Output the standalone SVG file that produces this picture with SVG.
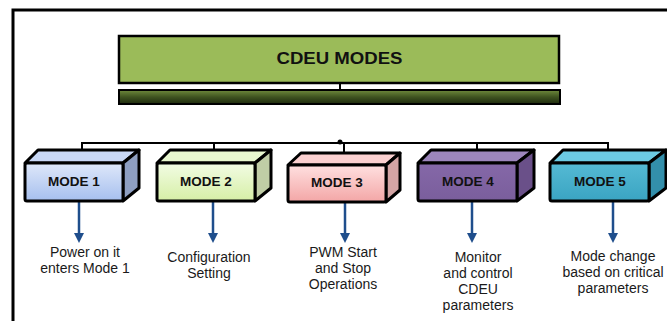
<svg xmlns="http://www.w3.org/2000/svg" width="667" height="321" viewBox="0 0 667 321">
<defs>
<linearGradient id="gBar" x1="0" y1="0" x2="0" y2="1"><stop offset="0" stop-color="#6f8a3c"/><stop offset="0.5" stop-color="#3f5320"/><stop offset="1" stop-color="#1e2a0e"/></linearGradient>
<linearGradient id="g1" x1="0" y1="0" x2="0" y2="1"><stop offset="0" stop-color="#dfe8fa"/><stop offset="1" stop-color="#a6bfee"/></linearGradient>
<linearGradient id="g2" x1="0" y1="0" x2="0" y2="1"><stop offset="0" stop-color="#f2fce4"/><stop offset="1" stop-color="#d6efa6"/></linearGradient>
<linearGradient id="g3" x1="0" y1="0" x2="0" y2="1"><stop offset="0" stop-color="#ffe0e0"/><stop offset="1" stop-color="#f3a6a6"/></linearGradient>
<linearGradient id="g4" x1="0" y1="0" x2="0" y2="1"><stop offset="0" stop-color="#8568a8"/><stop offset="1" stop-color="#7a5e9c"/></linearGradient>
<linearGradient id="g5" x1="0" y1="0" x2="0" y2="1"><stop offset="0" stop-color="#55bad4"/><stop offset="1" stop-color="#3aa4c2"/></linearGradient>
<marker id="ah" viewBox="0 0 10 10" refX="5" refY="5" markerWidth="4" markerHeight="4" orient="auto"><path d="M0,0 L10,5 L0,10 z" fill="#1f4e8c"/></marker>
</defs>
<style>
.edge{stroke:#000;stroke-width:3;stroke-linejoin:round}
.conn{stroke:#000;stroke-width:2;fill:none}
.arr{stroke:#1f4e8c;stroke-width:2.5;fill:none}
.lbl{font-family:"Liberation Sans",Arial,sans-serif;font-weight:bold;font-size:13.5px;fill:#111;text-anchor:middle}
.desc{font-family:"Liberation Sans",Arial,sans-serif;font-size:14px;fill:#1a1a1a;text-anchor:middle}
</style>
<rect width="667" height="321" fill="#fff"/>
<rect x="13" y="10" width="680" height="330" fill="none" stroke="#000" stroke-width="3"/>

<g id="connectors">
<line class="conn" x1="340" y1="83" x2="340" y2="90"/>
<polyline class="conn" points="82,150 82,143 608,143 608,150"/>
<line class="conn" x1="214" y1="143" x2="214" y2="151"/>
<line class="conn" x1="344" y1="143" x2="344" y2="153"/>
<line class="conn" x1="477" y1="143" x2="477" y2="151"/>
<circle cx="340" cy="142" r="2.5" fill="#000"/>
<line class="arr" x1="79" y1="201" x2="79" y2="238" marker-end="url(#ah)"/>
<line class="arr" x1="213" y1="201" x2="213" y2="238" marker-end="url(#ah)"/>
<line class="arr" x1="345" y1="203" x2="345" y2="238" marker-end="url(#ah)"/>
<line class="arr" x1="472" y1="201" x2="472" y2="238" marker-end="url(#ah)"/>
<line class="arr" x1="613" y1="201" x2="613" y2="238" marker-end="url(#ah)"/>
</g>

<g id="root">
<rect x="119" y="36" width="440" height="47" fill="#9bbb59" stroke="#000" stroke-width="2.5"/>
<text x="339.5" y="64" font-family="'Liberation Sans',Arial,sans-serif" font-weight="bold" font-size="16" text-anchor="middle" textLength="126" lengthAdjust="spacingAndGlyphs" fill="#111">CDEU MODES</text>
</g>
<g id="bar">
<rect x="119" y="90" width="441" height="14" fill="url(#gBar)" stroke="#000" stroke-width="2"/>
</g>

<g id="mode1">
<polygon class="edge" points="25,163 38,150 139,150 123,163" fill="#c8d7f5"/>
<polygon class="edge" points="123,163 139,150 139,188 123,201" fill="#8e9fc2"/>
<rect class="edge" x="25" y="163" width="98" height="38" rx="2" fill="url(#g1)"/>
<text class="lbl" x="74" y="185.5">MODE 1</text>
<text class="desc" x="85" y="257">Power on it</text>
<text class="desc" x="85" y="273">enters Mode 1</text>
</g>

<g id="mode2">
<polygon class="edge" points="157,163 170,150 271,150 255,163" fill="#e8f7cf"/>
<polygon class="edge" points="255,163 271,150 271,188 255,201" fill="#c0cda6"/>
<rect class="edge" x="157" y="163" width="98" height="38" rx="2" fill="url(#g2)"/>
<text class="lbl" x="206" y="185.5">MODE 2</text>
<text class="desc" x="209" y="262">Configuration</text>
<text class="desc" x="209" y="278">Setting</text>
</g>

<g id="mode3">
<polygon class="edge" points="288,165 301,153 400,153 386,165" fill="#fbd0d0"/>
<polygon class="edge" points="386,165 400,153 400,190 386,202" fill="#d4a5a5"/>
<rect class="edge" x="288" y="165" width="98" height="37" rx="2" fill="url(#g3)"/>
<text class="lbl" x="337" y="187">MODE 3</text>
<text class="desc" x="343" y="257">PWM Start</text>
<text class="desc" x="343" y="273">and Stop</text>
<text class="desc" x="343" y="289">Operations</text>
</g>

<g id="mode4">
<polygon class="edge" points="418,163 431,150 534,150 517,163" fill="#9d86bc"/>
<polygon class="edge" points="517,163 534,150 534,188 517,201" fill="#6a5089"/>
<rect class="edge" x="418" y="163" width="99" height="38" rx="2" fill="url(#g4)"/>
<text class="lbl" x="468" y="185.5">MODE 4</text>
<text class="desc" x="478" y="262">Monitor</text>
<text class="desc" x="478" y="278">and control</text>
<text class="desc" x="478" y="294">CDEU</text>
<text class="desc" x="478" y="310">parameters</text>
</g>

<g id="mode5">
<polygon class="edge" points="550,163 563,150 666,150 649,163" fill="#6ccbe3"/>
<polygon class="edge" points="649,163 666,150 666,188 649,201" fill="#338fab"/>
<rect class="edge" x="550" y="163" width="99" height="38" rx="2" fill="url(#g5)"/>
<text class="lbl" x="600" y="185.5">MODE 5</text>
<text class="desc" x="613" y="261">Mode change</text>
<text class="desc" x="613" y="277">based on critical</text>
<text class="desc" x="613" y="293">parameters</text>
</g>
</svg>
